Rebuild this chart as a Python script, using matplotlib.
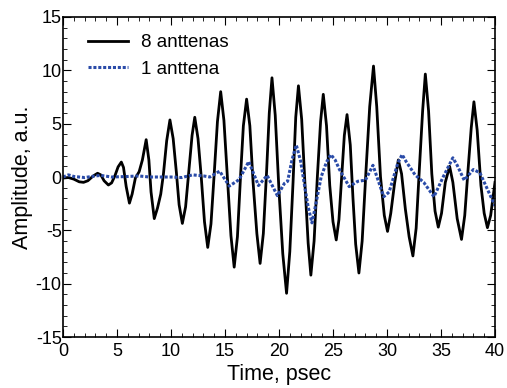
import matplotlib
matplotlib.use("Agg")
import matplotlib.pyplot as plt
from matplotlib.ticker import MultipleLocator

plt.rcParams['font.family'] = ['Liberation Sans', 'DejaVu Sans']
plt.rcParams['axes.unicode_minus'] = False

# 8 antennas
t8 = [0.0, 0.5, 1.0, 1.5, 1.9, 2.3, 2.8, 3.2, 3.5, 3.8, 4.2, 4.5, 4.8, 5.1, 5.4,
      5.6, 5.85, 6.15, 6.4, 6.7, 7.05, 7.35, 7.7, 7.95, 8.15, 8.45, 8.75, 9.05, 9.3,
      9.6, 9.9, 10.2, 10.5, 10.75, 11.05, 11.35, 11.65, 11.95, 12.2, 12.5, 12.8,
      13.1, 13.4, 13.7, 14.0, 14.3, 14.6, 14.9, 15.2, 15.55, 15.85, 16.15, 16.45,
      16.7, 17.0, 17.3, 17.6, 17.95, 18.25, 18.55, 18.85, 19.1, 19.35, 19.65, 20.0,
      20.35, 20.7, 21.0, 21.3, 21.55, 21.8, 22.1, 22.4, 22.7, 22.95, 23.25, 23.55,
      23.85, 24.1, 24.4, 24.7, 25.0, 25.3, 25.55, 25.8, 26.05, 26.3, 26.6, 26.85,
      27.1, 27.4, 27.7, 28.05, 28.4, 28.75, 29.05, 29.4, 29.75, 30.05, 30.35, 30.7,
      31.05, 31.35, 31.7, 32.05, 32.4, 32.7, 33.0, 33.3, 33.55, 33.85, 34.15, 34.45,
      34.75, 35.05, 35.4, 35.8, 36.1, 36.5, 36.9, 37.2, 37.5, 37.8, 38.05, 38.35,
      38.7, 39.0, 39.3, 39.6, 40.0]
amp8 = [-0.1, -0.05, -0.2, -0.45, -0.5, -0.35, 0.1, 0.35, 0.2, -0.35, -0.75, -0.55,
        0.1, 0.95, 1.4, 0.9, -0.9, -2.45, -1.6, -0.1, 0.5, 1.6, 3.5, 1.6, -1.4, -3.9,
        -2.9, -1.6, 0.3, 3.4, 5.35, 3.6, 0.4, -2.6, -4.35, -2.8, 0.6, 3.9, 5.6, 3.6,
        0.0, -4.2, -6.6, -4.4, 0.3, 5.2, 8.0, 5.3, 0.3, -5.5, -8.45, -5.6, 0.3, 4.8,
        7.3, 4.8, -0.5, -5.3, -8.1, -5.3, 0.5, 6.0, 9.3, 5.8, -1.3, -7.2, -10.9, -7.0,
        -0.5, 5.6, 8.55, 5.4, -0.6, -6.2, -9.2, -6.0, 0.0, 5.2, 7.75, 4.8, -0.8, -4.2,
        -5.9, -4.0, 0.0, 3.9, 5.85, 3.0, -2.0, -6.3, -9.0, -6.0, 0.5, 6.6, 10.4, 6.6,
        0.0, -3.6, -5.1, -3.4, -0.6, 1.6, 0.3, -3.0, -5.6, -7.4, -4.8, 0.8, 6.2, 9.65,
        6.2, 0.3, -3.2, -4.7, -3.4, -0.5, 1.0, -0.5, -3.9, -5.85, -3.6, 0.6, 4.6, 7.05,
        4.4, -0.8, -3.4, -4.75, -3.6, -0.5]

# 1 antenna
t1 = [0.0, 0.5, 1.0, 2.0, 3.0, 3.5, 4.5, 6.0, 7.0, 8.0, 9.0, 10.0, 11.0, 12.0, 13.0,
      13.6, 14.5, 15.4, 16.3, 17.2, 18.1, 18.9, 19.85, 20.5, 20.8, 21.2, 21.6, 22.0,
      22.4, 22.7, 23.05, 23.4, 23.9, 24.4, 24.8, 25.2, 25.6, 26.5, 27.3, 28.0, 28.7,
      29.7, 30.2, 31.0, 31.4, 31.8, 32.6, 33.4, 34.35, 35.2, 35.7, 36.1, 36.5, 37.15,
      38.0, 38.6, 40.0]
amp1 = [0.0, 0.2, 0.05, -0.05, 0.1, 0.15, 0.0, 0.05, 0.1, 0.0, 0.0, 0.0, -0.05, 0.2,
        0.1, 0.0, 0.55, -0.85, -0.25, 1.45, -0.8, 0.15, -1.75, -0.6, -0.4, 1.6, 3.0,
        1.5, -1.0, -2.8, -4.3, -2.6, 0.0, 1.4, 2.1, 1.6, 0.7, -0.9, -0.4, -0.3, 1.1,
        -1.85, -1.4, 1.3, 2.1, 1.4, 0.2, -0.5, -1.85, 0.0, 1.0, 1.8, 1.1, -0.3, 0.7,
        0.4, -2.7]

fig = plt.figure(figsize=(5.07, 3.88), dpi=100)
ax = fig.add_axes([0.1243, 0.1314, 0.852, 0.8248])

ax.plot(t8, amp8, color='black', lw=2.0, label='8 anttenas')
ax.plot(t1, amp1, color='#2a4ba8', lw=2.2, linestyle=(0, (1.0, 0.6)), label='1 anttena')

ax.set_xlim(0, 40)
ax.set_ylim(-15, 15)
ax.xaxis.set_major_locator(MultipleLocator(5))
ax.xaxis.set_minor_locator(MultipleLocator(1))
ax.yaxis.set_major_locator(MultipleLocator(5))
ax.yaxis.set_minor_locator(MultipleLocator(1))
ax.tick_params(which='both', direction='in', top=True, right=True, labelsize=13)
ax.tick_params(axis='x', which='major', length=6, pad=4.5)
ax.tick_params(axis='y', which='major', length=6, pad=1)
ax.tick_params(which='minor', length=3)
for s in ax.spines.values():
    s.set_linewidth(1.2)

ax.set_xlabel('Time, psec', fontsize=15.5, labelpad=3)
ax.set_ylabel('Amplitude, a.u.', fontsize=15.5, labelpad=2)

ax.legend(loc='upper left', frameon=False, fontsize=13.5, handlelength=2.13,
          handletextpad=0.7, labelspacing=0.5, borderaxespad=0,
          bbox_to_anchor=(0.0405, 0.97))

fig.savefig('out.png', dpi=100)
